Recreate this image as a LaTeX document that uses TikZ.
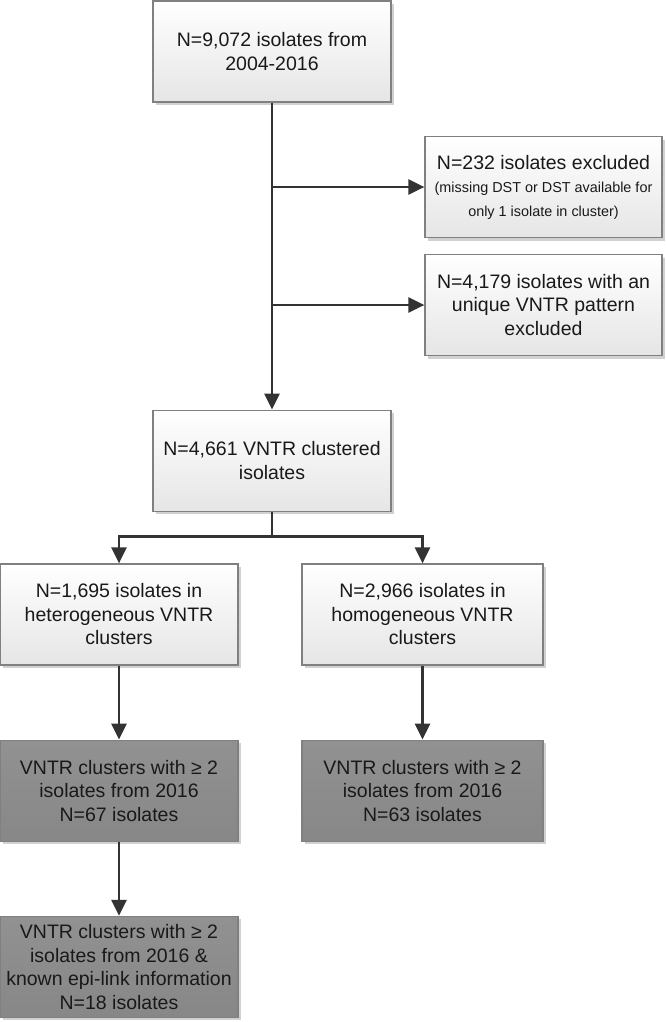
\documentclass[tikz,border=0pt]{standalone}
\usepackage{fontspec}
\setmainfont{Liberation Sans}
\usetikzlibrary{positioning,arrows.meta,shadows}

\newcommand{\bigfnt}{\fontsize{19.5}{23.5}\selectfont}
\newcommand{\smallfnt}{\fontsize{14.4}{19}\selectfont}

\begin{document}
\begin{tikzpicture}[
    x=1pt, y=-1pt,
    flowbox/.style={draw=black!50, line width=1.2pt, rectangle, minimum height=101pt, minimum width=238pt, top color=white, bottom color=black!10, align=center, font=\bigfnt, text=black!90, drop shadow={shadow xshift=3pt, shadow yshift=-3pt, fill=black!18, opacity=1}},
    flowdark/.style={flowbox, top color=black!43, bottom color=black!47},
    flowarrow/.style={draw=black!80, line width=2.7pt, -{Triangle[length=16pt,width=15pt]}}
]
  \useasboundingbox (0,0) rectangle (666,1022);

  % Nodes
  \node (all) [flowbox] at (272,51.5) {N=9,072 isolates from\\2004-2016};
  \node (excla) [flowbox, minimum width=237pt] at (543.5,187) {N=232 isolates excluded\\\smallfnt(missing DST or DST available for\\\smallfnt only 1 isolate in cluster)};
  \node (exclb) [flowbox, minimum width=237pt] at (543.5,305) {N=4,179 isolates with an\\unique VNTR pattern\\excluded};
  \node (clust) [flowbox, below=307pt of all] {N=4,661 VNTR clustered\\isolates};

  \node (het) [flowbox] at (119,614.5) {N=1,695 isolates in\\heterogeneous VNTR\\clusters};
  \node (hom) [flowbox, minimum width=241pt] at (422.5,614.5) {N=2,966 isolates in\\homogeneous VNTR\\clusters};

  \node (het16) [flowdark, below=74pt of het] {VNTR clusters with ≥ 2\\isolates from 2016\\N=67 isolates};
  \node (hom16) [flowdark, minimum width=241pt, below=74pt of hom] {VNTR clusters with ≥ 2\\isolates from 2016\\N=63 isolates};
  \node (epi) [flowdark, below=74pt of het16] {VNTR clusters with ≥ 2\\isolates from 2016 \&\\known epi-link information\\N=18 isolates};

  \coordinate (split) at ([yshift=-25pt]clust.south);

  % Arrows
  \draw [flowarrow] (all) -- (clust);
  \draw [flowarrow] (all.south |- excla.west) -- (excla.west);
  \draw [flowarrow] (all.south |- exclb.west) -- (exclb.west);
  \draw [flowarrow, -] (clust.south) -- (split);
  \draw [flowarrow] (split) -| (het.north);
  \draw [flowarrow] (split) -| (hom.north);
  \draw [flowarrow] (het) -- (het16);
  \draw [flowarrow] (hom) -- (hom16);
  \draw [flowarrow] (het16) -- (epi);
\end{tikzpicture}
\end{document}
